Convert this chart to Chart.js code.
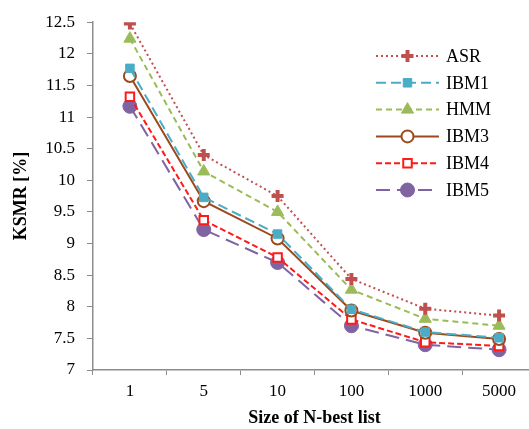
<!DOCTYPE html>
<html>
<head>
<meta charset="utf-8">
<script src="https://cdn.jsdelivr.net/npm/chart.js@4/dist/chart.umd.min.js"></script>
<style>
  html, body { margin: 0; padding: 0; background: #fff; overflow: hidden; }
  #wrap { width: 546px; height: 429px; }
</style>
</head>
<body>
<div id="wrap"><canvas id="ksmrChart" width="546" height="429"></canvas></div>
<script>
// Données
const nbestSizes = ['1', '5', '10', '100', '1000', '5000'];
const asr  = [12.48, 10.40, 9.75, 8.44, 7.97, 7.86];
const ibm1 = [11.77, 9.73, 9.15, 7.96, 7.60, 7.51];
const hmm  = [12.24, 10.14, 9.50, 8.27, 7.81, 7.70];
const ibm3 = [11.65, 9.67, 9.08, 7.94, 7.59, 7.49];
const ibm4 = [11.32, 9.37, 8.78, 7.80, 7.44, 7.38];
const ibm5 = [11.17, 9.22, 8.70, 7.70, 7.40, 7.32];
const yTicksMin = 7, yTicksMax = 12.5, yStep = 0.5;

const serif = '"Liberation Serif", "DejaVu Serif", serif';
const axisGrey = '#8c8c8c';

function serie(label, data, color, dash, style, radius, fill, bw) {
    return {
        label: label,
        data: data,
        borderColor: color,
        borderWidth: 2,
        borderDash: dash,
        pointStyle: style,
        pointRadius: radius,
        pointBackgroundColor: fill,
        pointBorderColor: color,
        pointBorderWidth: bw,
        fill: false,
        tension: 0
    };
}

const datasets = [
    serie('ASR', asr, '#c0504d', [2, 3], 'cross', 6, '#c0504d', 4),
    serie('IBM1', ibm1, '#4bacc6', [10, 5], 'rect', 6, '#4bacc6', 1),
    serie('HMM', hmm, '#9bbb59', [6, 4], 'triangle', 7, '#9bbb59', 1),
    serie('IBM3', ibm3, '#9b4a1e', [], 'circle', 6, '#ffffff', 2),
    serie('IBM4', ibm4, '#ff1a1a', [6, 3], 'rect', 6, '#ffffff', 2),
    serie('IBM5', ibm5, '#8064a2', [14, 7], 'circle', 7, '#8064a2', 1)
];

// Légende dessinée à la main (ligne + marqueur au milieu)
const legendPlugin = {
    id: 'customLegend',
    afterDatasetsDraw(chart) {
        const ctx = chart.ctx;
        const x0 = 376, x1 = 439, xt = 446;
        let y = 56;
        chart.data.datasets.forEach(ds => {
            ctx.save();
            ctx.strokeStyle = ds.borderColor;
            ctx.lineWidth = ds.borderWidth;
            ctx.setLineDash(ds.borderDash);
            ctx.beginPath();
            ctx.moveTo(x0, y);
            ctx.lineTo(x1, y);
            ctx.stroke();
            ctx.setLineDash([]);
            ctx.fillStyle = ds.pointBackgroundColor;
            ctx.strokeStyle = ds.pointBorderColor;
            ctx.lineWidth = ds.pointBorderWidth;
            Chart.helpers.drawPoint(ctx, {
                pointStyle: ds.pointStyle,
                radius: ds.pointRadius,
                borderWidth: ds.pointBorderWidth,
                rotation: 0
            }, (x0 + x1) / 2, y);
            ctx.fillStyle = '#000';
            ctx.font = '18px ' + serif;
            ctx.textAlign = 'left';
            ctx.textBaseline = 'middle';
            ctx.fillText(ds.label, xt, y + 1);
            ctx.restore();
            y += 26.8;
        });
    }
};

new Chart(document.getElementById('ksmrChart').getContext('2d'), {
    type: 'line',
    data: { labels: nbestSizes, datasets: datasets },
    plugins: [legendPlugin],
    options: {
        responsive: false,
        animation: false,
        layout: { padding: { top: 22, right: 0, left: 0, bottom: 0 } },
        plugins: { legend: { display: false }, tooltip: { enabled: false } },
        scales: {
            x: {
                offset: true,
                afterFit: s => { s.height = 59; },
                grid: {
                    offset: true,
                    drawOnChartArea: false,
                    drawTicks: true,
                    tickLength: 5,
                    color: axisGrey
                },
                border: { color: axisGrey, width: 1.5 },
                ticks: {
                    color: '#000',
                    padding: 6,
                    maxRotation: 0,
                    font: { family: serif, size: 17 }
                },
                title: {
                    display: true,
                    text: 'Size of N-best list',
                    color: '#000',
                    padding: { top: 0, bottom: 0 },
                    font: { family: serif, size: 18, weight: 'bold' }
                }
            },
            y: {
                min: yTicksMin,
                max: yTicksMax,
                afterFit: s => { s.width = 93; },
                grid: {
                    drawOnChartArea: false,
                    drawTicks: true,
                    tickLength: 6,
                    color: axisGrey
                },
                border: { color: axisGrey, width: 1.5 },
                ticks: {
                    stepSize: yStep,
                    color: '#000',
                    padding: 12,
                    font: { family: serif, size: 17 },
                    callback: v => String(v)
                },
                title: {
                    display: true,
                    text: 'KSMR [%]',
                    color: '#000',
                    padding: { top: 11, bottom: 0 },
                    font: { family: serif, size: 18, weight: 'bold' }
                }
            }
        }
    }
});
</script>
</body>
</html>
